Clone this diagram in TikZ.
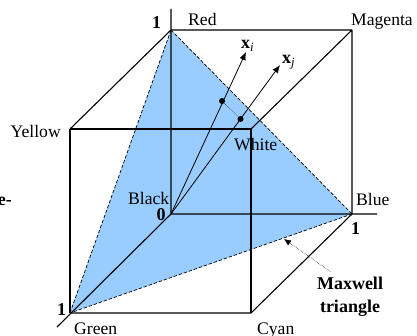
\documentclass[tikz,border=0pt]{standalone}
\usepackage{fontspec}
\setmainfont{Liberation Serif}
\usetikzlibrary{arrows.meta}
\definecolor{tri}{HTML}{99CCFF}
\tikzset{
  edge/.style={line width=1.1pt,black},
  tridash/.style={line width=0.7pt,dash pattern=on 3.5pt off 1.8pt},
  ray/.style={line width=0.8pt,-{Latex[length=8pt,width=6.5pt]}},
  lab/.style={font=\fontsize{17.6}{18}\selectfont,inner sep=0pt},
  num/.style={font=\fontsize{18}{18}\selectfont\bfseries,inner sep=0pt},
  vec/.style={font=\fontsize{18}{18}\selectfont,inner sep=0pt},
  dot/.style={circle,fill=black,inner sep=0pt,minimum size=6pt}
}
\begin{document}
\begin{tikzpicture}[x=1pt,y=-1pt]
\useasboundingbox (0,0) rectangle (417,336);
\coordinate (R) at (171,30);
\coordinate (M) at (352,30);
\coordinate (Y) at (70,129);
\coordinate (W) at (251,129);
\coordinate (K) at (171,214);
\coordinate (B) at (352,214);
\coordinate (G) at (70,313);
\coordinate (C) at (251,313);
\coordinate (Rend) at (171,9);
\coordinate (Bend) at (377,214);
\coordinate (Gend) at (57,327);
\coordinate (Xi) at (246,52);
\coordinate (Xj) at (280,65);
\coordinate (Mstart) at (331,272);
\coordinate (Mend) at (284,239);
\fill[tri] (R) -- (B) -- (G) -- cycle;
\draw[tridash] (R) -- (B) (B) -- (G) (G) -- (R);
\draw[edge] (R) -- (M) (R) -- (Y) (M) -- (W) (M) -- (B);
\draw[edge] (Y) -- (W) (Y) -- (G) (W) -- (C);
\draw[edge] (G) -- (C) (C) -- (B);
\draw[edge] (Rend) -- (K) (K) -- (Bend) (K) -- (Gend);
\draw[ray] (K) -- (Xi);
\draw[ray] (K) -- (Xj);
\node[dot] (di) at (222,101) {};
\node[dot] (dj) at (240.5,119) {};
\draw[line width=0.5pt,densely dotted] (di) -- (dj);
\draw[line width=0.5pt,densely dotted,-{Latex[length=7pt,width=6pt]}] (Mstart) -- (Mend);
\node[lab,anchor=base west] (nRed) at (188,26) {Red};
\node[lab,anchor=base west] (nMag) at (351,26) {Magenta};
\node[lab,anchor=base west] (nYel) at (10.5,137.5) {Yellow};
\node[lab,anchor=base west] (nWhi) at (234,151) {White};
\node[lab,anchor=base west] (nBla) at (128,205) {Black};
\node[lab,anchor=base west] (nBlu) at (356,206) {Blue};
\node[lab,anchor=base west] (nGre) at (74,334) {Green};
\node[lab,anchor=base west] (nCya) at (257,334) {Cyan};
\node[num,anchor=base west] (n1a) at (152,29) {1};
\node[num,anchor=base west] (n0) at (156.5,220.5) {0};
\node[num,anchor=base west] (n1b) at (57,315) {1};
\node[num,anchor=base west] (n1c) at (351,235) {1};
\node[vec,anchor=base west] (ni) at (241,49) {\textbf{x}\textsubscript{\textit{i}}};
\node[vec,anchor=base west] (nj) at (282,64) {\textbf{x}\textsubscript{\textit{j}}};
\node[num,anchor=base] (nMax) at (350,290) {Maxwell};
\node[num,anchor=base] (nTri) at (350,312) {triangle};
\node[num,anchor=base east] (frag) at (12,206) {e-};
\end{tikzpicture}
\end{document}
